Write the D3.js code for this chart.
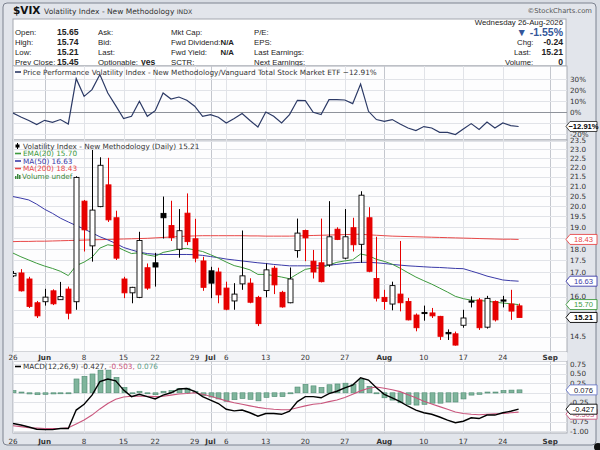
<!DOCTYPE html>
<html>
<head>
<meta charset="utf-8">
<script src="https://cdn.jsdelivr.net/npm/d3@7"></script>
<style>
html, body { margin: 0; padding: 0; background: #d9dde4; }
svg { display: block; font-family: "DejaVu Sans", Verdana, sans-serif; }
</style>
</head>
<body>
<svg id="chart" width="600" height="450"></svg>
<script>
// trading days shown (May 26 .. Aug 26 2026)
const dates = [
    "2026-05-26", "2026-05-27", "2026-05-28", "2026-05-29",
    "2026-06-01", "2026-06-02", "2026-06-03", "2026-06-04", "2026-06-05",
    "2026-06-08", "2026-06-09", "2026-06-10", "2026-06-11", "2026-06-12",
    "2026-06-15", "2026-06-16", "2026-06-17", "2026-06-18",
    "2026-06-22", "2026-06-23", "2026-06-24", "2026-06-25", "2026-06-26",
    "2026-06-29", "2026-06-30", "2026-07-01", "2026-07-02",
    "2026-07-06", "2026-07-07", "2026-07-08", "2026-07-09", "2026-07-10",
    "2026-07-13", "2026-07-14", "2026-07-15", "2026-07-16", "2026-07-17",
    "2026-07-20", "2026-07-21", "2026-07-22", "2026-07-23", "2026-07-24",
    "2026-07-27", "2026-07-28", "2026-07-29", "2026-07-30", "2026-07-31",
    "2026-08-03", "2026-08-04", "2026-08-05", "2026-08-06", "2026-08-07",
    "2026-08-10", "2026-08-11", "2026-08-12", "2026-08-13", "2026-08-14",
    "2026-08-17", "2026-08-18", "2026-08-19", "2026-08-20", "2026-08-21",
    "2026-08-24", "2026-08-25", "2026-08-26"
];
// empty room on the right of the chart
const futureDates = ["2026-08-27", "2026-08-28", "2026-08-31", "2026-09-01", "2026-09-02", "2026-09-03"];

const open = [16.85, 16.97, 16.72, 15.77, 15.81, 16.24, 15.89, 16.31, 15.81, 20.25, 18.14, 19.98, 21.08, 19.44,
    16.72, 16.16, 15.98, 17.19, 17.40, 19.65, 19.07, 17.99, 19.66, 18.46, 17.48, 17.06, 17.01, 16.35, 15.84,
    16.52, 16.55, 15.98, 16.25, 17.17, 16.18, 15.77, 17.93, 18.84, 17.47, 17.40, 17.31, 18.90, 17.60, 18.97,
    18.21, 19.44, 16.74, 15.98, 15.72, 16.11, 15.82, 15.30, 15.40, 15.38, 15.25, 14.66, 14.61, 14.92, 15.84,
    15.88, 14.85, 15.82, 15.88, 15.72, 15.65];
const high = [17.05, 17.13, 16.81, 15.84, 16.32, 16.30, 16.60, 16.41, 21.53, 20.31, 22.97, 22.56, 22.53, 19.78,
    16.81, 16.40, 18.78, 17.37, 17.83, 20.48, 20.27, 19.86, 20.64, 19.39, 17.66, 17.23, 17.19, 16.61, 16.55,
    18.84, 16.75, 16.04, 17.37, 17.27, 16.24, 17.20, 19.40, 18.88, 17.96, 19.40, 20.25, 18.99, 19.86, 19.44,
    20.75, 19.95, 18.55, 16.28, 16.61, 18.36, 15.96, 15.36, 15.66, 15.57, 15.27, 14.77, 14.69, 15.50, 16.02,
    15.96, 16.04, 15.86, 16.04, 16.28, 15.74];
const low = [16.80, 16.21, 15.57, 15.19, 15.66, 15.68, 15.88, 15.14, 15.50, 17.89, 17.45, 19.95, 19.24, 17.52,
    15.95, 15.75, 15.95, 16.28, 16.41, 18.47, 18.36, 17.62, 18.17, 17.42, 16.24, 15.95, 15.75, 15.48, 15.50,
    16.28, 15.75, 14.89, 15.98, 16.11, 15.58, 15.75, 17.62, 17.47, 16.74, 16.58, 17.23, 18.40, 17.55, 17.89,
    17.40, 17.00, 15.82, 15.50, 15.48, 15.44, 15.10, 14.70, 15.09, 15.19, 14.39, 14.39, 14.19, 14.83, 15.59,
    14.75, 14.80, 15.06, 15.59, 15.12, 15.21];
const close = [16.95, 16.24, 15.63, 15.27, 15.99, 15.73, 16.01, 15.37, 21.47, 18.87, 19.81, 22.12, 19.34, 17.60,
    16.16, 16.38, 18.38, 16.35, 17.22, 19.44, 18.51, 18.83, 18.33, 17.60, 16.38, 16.55, 16.08, 15.52, 16.11,
    16.85, 15.79, 14.98, 17.10, 16.48, 15.61, 16.72, 18.72, 18.50, 17.01, 16.61, 18.55, 18.43, 18.55, 18.19,
    20.55, 17.04, 15.95, 15.82, 16.45, 15.77, 15.12, 14.83, 15.38, 15.27, 14.52, 14.61, 14.21, 15.19, 15.82,
    14.83, 15.94, 15.12, 15.86, 15.45, 15.21];

const ema20 = [17.82, 17.66, 17.52, 17.38, 17.26, 17.16, 17.04, 16.86, 17.28, 17.43, 17.64, 18.04, 18.19, 18.13,
    17.95, 17.80, 17.84, 17.74, 17.68, 17.85, 17.92, 18.00, 18.03, 17.96, 17.89, 17.75, 17.60, 17.43, 17.28,
    17.20, 17.10, 16.91, 16.91, 16.86, 16.80, 16.73, 16.93, 17.12, 17.18, 17.17, 17.31, 17.42, 17.48, 17.53,
    17.78, 17.71, 17.55, 17.46, 17.34, 17.17, 16.98, 16.80, 16.65, 16.51, 16.35, 16.19, 16.02, 15.93, 15.87,
    15.86, 15.83, 15.79, 15.76, 15.73, 15.70];
const ma50 = [20.48, 20.40, 20.31, 20.10, 19.85, 19.65, 19.42, 19.24, 19.07, 18.91, 18.73, 18.55, 18.41, 18.25,
    18.07, 17.96, 17.86, 17.80, 17.77, 17.76, 17.76, 17.76, 17.76, 17.75, 17.72, 17.67, 17.62, 17.56, 17.52,
    17.48, 17.44, 17.40, 17.37, 17.33, 17.30, 17.27, 17.27, 17.27, 17.27, 17.28, 17.30, 17.33, 17.37, 17.40,
    17.42, 17.42, 17.40, 17.37, 17.33, 17.30, 17.27, 17.25, 17.23, 17.21, 17.20, 17.18, 17.16, 17.15, 17.05,
    16.95, 16.84, 16.76, 16.68, 16.65, 16.63];
const ma200 = [18.33, 18.34, 18.34, 18.35, 18.35, 18.36, 18.37, 18.38, 18.39, 18.40, 18.41, 18.42, 18.43, 18.44,
    18.45, 18.46, 18.47, 18.48, 18.50, 18.52, 18.54, 18.56, 18.58, 18.59, 18.60, 18.60, 18.60, 18.60, 18.60,
    18.60, 18.59, 18.59, 18.58, 18.58, 18.58, 18.58, 18.59, 18.60, 18.61, 18.62, 18.63, 18.64, 18.65, 18.66,
    18.67, 18.64, 18.62, 18.60, 18.58, 18.57, 18.56, 18.55, 18.54, 18.53, 18.52, 18.51, 18.50, 18.49, 18.48,
    18.47, 18.46, 18.45, 18.44, 18.44, 18.43];

// price performance vs VTI, percent
const perf = [-0.6, -4.3, -7.5, -11.2, -7.3, -9.1, -6.6, -10.6, 30.6, 14.5, 20.6, 34.3, 17.5, 6.1, -5.7, -3.6,
    10.0, -3.6, 1.5, 17.5, 12.1, 13.9, 10.9, 5.5, -3.6, -2.1, -4.5, -9.7, -5.7, -1.2, -7.5, -13.4, 0.3, -3.6,
    -9.7, -2.1, 10.9, 10.6, 0.0, -2.1, 11.5, 11.5, 11.2, 7.9, 25.7, 0.9, -6.6, -8.2, -6.6, -10.6, -14.3, -16.6,
    -13.0, -14.3, -18.2, -18.2, -20.3, -15.2, -10.3, -15.7, -8.8, -14.3, -9.7, -12.1, -12.91];

const macd = [-0.80, -0.84, -0.89, -0.95, -0.96, -0.96, -0.93, -0.93, -0.45, -0.30, -0.06, 0.29, 0.36, 0.31,
    0.07, -0.10, -0.04, -0.10, -0.16, -0.06, 0.00, 0.10, 0.11, 0.04, -0.10, -0.19, -0.28, -0.43, -0.47, -0.45,
    -0.52, -0.61, -0.54, -0.54, -0.56, -0.48, -0.23, -0.10, -0.10, -0.13, -0.02, 0.04, 0.13, 0.20, 0.39, 0.33,
    0.13, -0.04, -0.13, -0.23, -0.35, -0.45, -0.52, -0.56, -0.63, -0.71, -0.78, -0.74, -0.65, -0.67, -0.58,
    -0.58, -0.52, -0.48, -0.427];
const signal = [-0.86, -0.88, -0.91, -0.92, -0.93, -0.93, -0.93, -0.91, -0.81, -0.71, -0.58, -0.42, -0.28, -0.17,
    -0.11, -0.09, -0.09, -0.09, -0.10, -0.09, -0.06, -0.03, -0.02, 0.00, -0.04, -0.09, -0.15, -0.21, -0.26, -0.30,
    -0.34, -0.38, -0.41, -0.43, -0.44, -0.44, -0.39, -0.34, -0.30, -0.28, -0.23, -0.19, -0.12, -0.04, 0.05, 0.12,
    0.15, 0.12, 0.08, 0.03, -0.05, -0.13, -0.22, -0.29, -0.36, -0.43, -0.50, -0.54, -0.56, -0.57, -0.56, -0.55,
    -0.54, -0.52, -0.503];
const hist = [0.06, 0.02, -0.03, -0.05, -0.04, -0.03, -0.01, -0.01, 0.36, 0.43, 0.49, 0.59, 0.59, 0.40, 0.14,
    -0.02, 0.04, -0.01, -0.05, 0.04, 0.06, 0.11, 0.12, 0.04, -0.07, -0.11, -0.16, -0.22, -0.18, -0.15, -0.17,
    -0.21, -0.12, -0.10, -0.10, -0.02, 0.15, 0.22, 0.18, 0.14, 0.21, 0.23, 0.25, 0.22, 0.35, 0.17, 0.00, -0.13,
    -0.19, -0.26, -0.30, -0.32, -0.30, -0.27, -0.27, -0.24, -0.24, -0.16, -0.06, -0.04, 0.02, 0.02, 0.06, 0.07,
    0.076];

const tickDays = ["2026-05-26", "2026-06-01", "2026-06-08", "2026-06-15", "2026-06-22", "2026-06-29", "2026-07-01",
    "2026-07-06", "2026-07-13", "2026-07-20", "2026-07-27", "2026-08-03", "2026-08-10", "2026-08-17",
    "2026-08-24", "2026-09-01"];
const tickLabels = ["26", "Jun", "8", "15", "22", "29", "Jul", "6", "13", "20", "27", "Aug", "10", "17", "24", "Sep"];
const priceTicks = [14.5, 15.0, 15.5, 16.0, 16.5, 17.0, 17.5, 18.0, 18.5, 19.0, 19.5, 20.0, 20.5, 21.0, 21.5,
    22.0, 22.5, 23.0, 23.5];
const perfTicks = [30, 20, 10, 0, -10, -20];
const macdTicks = [0.75, 0.5, 0.25, 0, -0.25, -0.5, -0.75, -1.0];

const svg = d3.select("#chart");
const RED = "#e60000", MA200C = "#e84848", MA50C = "#3a3aa8", EMAC = "#3d9a3d", NAVY = "#2c3a66";
const SIGC = "#c9557c", HISTC = "#5fa08a";
const fmt2 = d3.format(".2f");
const last = dates.length - 1;

const x = d3.scalePoint().domain(dates.concat(futureDates)).range([13, 566]);
const left = 13, right = 567;
const perfBox = {top: 66, bottom: 140};
const mainBox = {top: 140, bottom: 352};
const macdBox = {top: 361, bottom: 433};
const yP = d3.scaleLinear().domain([-25.2, 42.1]).range([perfBox.bottom, perfBox.top]);
const y = d3.scaleLog().domain([13.97, 23.54]).range([mainBox.bottom, mainBox.top]);
const yM = d3.scaleLinear().domain([-1.047, 0.828]).range([macdBox.bottom, macdBox.top]);

// outer frame and header
svg.append("rect").attr("x", 3).attr("y", 3).attr("width", 593).attr("height", 442).attr("rx", 4)
    .attr("fill", "#e2e5eb").attr("stroke", "#7d8390");
svg.append("circle").attr("cx", 598).attr("cy", 447).attr("r", 4).attr("fill", "#111");

let title = svg.append("text").attr("x", 13).attr("y", 14).attr("fill", "#111");
title.append("tspan").attr("font-size", 10.5).attr("font-weight", "bold").text("$VIX ");
title.append("tspan").attr("font-size", 7.5).attr("fill", "#333").text("Volatility Index - New Methodology ");
title.append("tspan").attr("font-size", 6.2).attr("fill", "#333").text("INDX");
svg.append("text").attr("x", 592).attr("y", 13).attr("text-anchor", "end").attr("font-size", 6.8)
    .attr("fill", "#555").text("\u00a9StockCharts.com");

svg.append("rect").attr("x", left).attr("y", 19).attr("width", right - left - 1).attr("height", 47)
    .attr("fill", "#fff").attr("stroke", "#a4a8b0");

const hdr = svg.append("g").attr("font-family", "'Liberation Sans', Arial, sans-serif").attr("fill", "#222");
function htext(xp, yp, txt, opt) {
    opt = opt || {};
    return hdr.append("text").attr("x", xp).attr("y", yp).attr("font-size", opt.size || 7.8)
        .attr("font-weight", opt.bold ? "bold" : null).attr("text-anchor", opt.anchor || "start")
        .attr("fill", opt.color || "#222").text(txt);
}
const rowY = [35, 45, 55, 64.5];
htext(15, rowY[0], "Open:"); htext(57, rowY[0], "15.65", {bold: true, size: 8.6});
htext(15, rowY[1], "High:"); htext(57, rowY[1], "15.74", {bold: true, size: 8.6});
htext(15, rowY[2], "Low:"); htext(57, rowY[2], "15.21", {bold: true, size: 8.6});
htext(15, rowY[3], "Prev Close:"); htext(57, rowY[3], "15.45", {bold: true, size: 8.6});
htext(98, rowY[0], "Ask:"); htext(98, rowY[1], "Bid:"); htext(98, rowY[2], "Last:");
htext(98, rowY[3], "Optionable:"); htext(141, rowY[3], "yes", {bold: true, size: 8.6});
htext(171, rowY[0], "Mkt Cap:"); htext(171, rowY[1], "Fwd Dividend:"); htext(171, rowY[2], "Fwd Yield:");
htext(171, rowY[3], "SCTR:");
htext(234, rowY[1], "N/A", {bold: true, anchor: "end"}); htext(234, rowY[2], "N/A", {bold: true, anchor: "end"});
htext(254, rowY[0], "P/E:"); htext(254, rowY[1], "EPS:"); htext(254, rowY[2], "Last Earnings:");
htext(254, rowY[3], "Next Earnings:");
htext(563, 25, "Wednesday  26-Aug-2026", {anchor: "end"});
htext(563, 36, "\u25bc -1.55%", {anchor: "end", bold: true, size: 10.5, color: "#34579a"});
htext(517, rowY[1], "Chg:"); htext(563, rowY[1], "-0.24", {anchor: "end", bold: true, size: 8.6});
htext(514, rowY[2], "Last:"); htext(563, rowY[2], "15.21", {anchor: "end", bold: true, size: 8.6});
htext(505, rowY[3], "Volume:"); htext(563, rowY[3], "0", {anchor: "end", bold: true, size: 8.6});

// panel backgrounds
[perfBox, mainBox, macdBox].forEach((b, k) => {
    svg.append("rect").attr("x", left).attr("y", b.top).attr("width", right - left)
        .attr("height", b.bottom - b.top).attr("fill", "#fdfdfe").attr("stroke", "#a8acb4");
    svg.append("clipPath").attr("id", "clip" + k).append("rect")
        .attr("x", left).attr("y", b.top).attr("width", right - left).attr("height", b.bottom - b.top);
});
svg.append("rect").attr("x", left).attr("y", mainBox.bottom).attr("width", right - left)
    .attr("height", macdBox.top - mainBox.bottom).attr("fill", "#f3f4f7");

// vertical grid
const isMonth = l => isNaN(+l);
[perfBox, mainBox, macdBox].forEach(b => {
    svg.append("g").selectAll("line").data(tickDays).enter().append("line")
        .attr("x1", d => Math.round(x(d)) + 0.5).attr("x2", d => Math.round(x(d)) + 0.5)
        .attr("y1", b.top).attr("y2", b.bottom)
        .attr("stroke", (d, i) => isMonth(tickLabels[i]) ? "#c4c7ce" : "#e1e3e8");
});

// horizontal grids
function hgrid(vals, scale, strong) {
    svg.append("g").selectAll("line").data(vals).enter().append("line")
        .attr("x1", left).attr("x2", right)
        .attr("y1", d => Math.round(scale(d)) + 0.5).attr("y2", d => Math.round(scale(d)) + 0.5)
        .attr("stroke", d => d === strong ? "#8f939b" : "#e1e3e8");
}
hgrid(perfTicks, yP, 0);
hgrid(priceTicks, y, null);
hgrid(macdTicks, yM, null);

// x-axis labels (between panels and below MACD)
[357, 441].forEach(ly => {
    svg.append("g").selectAll("text").data(tickDays).enter().append("text")
        .attr("x", d => x(d)).attr("y", ly + 2.5).attr("text-anchor", "middle")
        .attr("font-size", 7.2).attr("fill", "#333")
        .attr("font-weight", (d, i) => isMonth(tickLabels[i]) ? "bold" : null)
        .text((d, i) => tickLabels[i]);
});

// value tags: later tags that would sit on an earlier one are pushed down a bit, like on the site
function tagPositions(vals, scale) {
    let placed = [];
    return vals.map(v => {
        let p = scale(v);
        placed.forEach(q => { if (Math.abs(p - q) < 5) p = q + 5; });
        placed.push(p);
        return p;
    });
}
const perfTags = tagPositions([perf[last]], yP);
const priceTags = tagPositions([ma200[last], ma50[last], ema20[last], close[last]], y);
const macdTags = tagPositions([hist[last], macd[last], signal[last]], yM);

// right axis labels; the ones sitting under a value tag are hidden
function rlabels(vals, scale, f, tagYs) {
    const shown = vals.filter(v => tagYs.every(t => Math.abs(scale(v) - t) > 6));
    svg.append("g").selectAll("text").data(shown).enter().append("text")
        .attr("x", 570).attr("y", d => scale(d) + 2.6).attr("font-size", 7.2).attr("fill", "#333")
        .text(f);
}
rlabels(perfTicks, yP, d => d + "%", perfTags);
rlabels(priceTicks, y, d => d.toFixed(1), priceTags);
rlabels(macdTicks, yM, d => d.toFixed(2), macdTags);

// price performance line
const gP = svg.append("g").attr("clip-path", "url(#clip0)");
gP.append("path").datum(perf)
    .attr("d", d3.line().x((d, i) => x(dates[i])).y(d => yP(d)))
    .attr("fill", "none").attr("stroke", NAVY).attr("stroke-width", 1.2);

// main panel: moving averages
const gM = svg.append("g").attr("clip-path", "url(#clip1)");
const maLine = d3.line().x((d, i) => x(dates[i])).y(d => y(d));
gM.append("path").datum(ma200).attr("d", maLine).attr("fill", "none").attr("stroke", MA200C).attr("stroke-width", 1);
gM.append("path").datum(ma50).attr("d", maLine).attr("fill", "none").attr("stroke", MA50C).attr("stroke-width", 1);
gM.append("path").datum(ema20).attr("d", maLine).attr("fill", "none").attr("stroke", EMAC).attr("stroke-width", 1);

// candles: red when close is below previous close, hollow when close is above open
const idx = d3.range(dates.length);
const cColor = i => (i > 0 && close[i] < close[i - 1]) ? RED : "#000";
const cx = i => Math.round(x(dates[i])) + 0.5;
gM.selectAll(".wick").data(idx).enter().append("line").attr("class", "wick")
    .attr("x1", cx).attr("x2", cx)
    .attr("y1", i => y(high[i])).attr("y2", i => y(low[i]))
    .attr("stroke", cColor).attr("stroke-width", 1);
gM.selectAll(".body").data(idx).enter().append("rect").attr("class", "body")
    .attr("x", i => cx(i) - 2.5).attr("width", 5)
    .attr("y", i => y(Math.max(open[i], close[i])))
    .attr("height", i => Math.max(1.2, Math.abs(y(open[i]) - y(close[i]))))
    .attr("fill", i => close[i] >= open[i] ? "#fff" : cColor(i))
    .attr("stroke", cColor).attr("stroke-width", 0.9);

// MACD panel
const gD = svg.append("g").attr("clip-path", "url(#clip2)");
gD.selectAll(".hbar").data(idx).enter().append("rect").attr("class", "hbar")
    .attr("x", i => cx(i) - 2.5).attr("width", 5)
    .attr("y", i => Math.min(yM(0), yM(hist[i])))
    .attr("height", i => Math.max(1, Math.abs(yM(hist[i]) - yM(0))))
    .attr("fill", "#7fb49c").attr("stroke", "#4d8a70").attr("stroke-width", 0.6);
gD.append("path").datum(signal)
    .attr("d", d3.line().x((d, i) => x(dates[i])).y(d => yM(d)))
    .attr("fill", "none").attr("stroke", SIGC).attr("stroke-width", 1.1);
gD.append("path").datum(macd)
    .attr("d", d3.line().x((d, i) => x(dates[i])).y(d => yM(d)))
    .attr("fill", "none").attr("stroke", "#000").attr("stroke-width", 1.4);

// legends
function legendLine(yl, color, parts) {
    svg.append("line").attr("x1", 15).attr("x2", 21).attr("y1", yl).attr("y2", yl)
        .attr("stroke", color).attr("stroke-width", 1.6);
    let t = svg.append("text").attr("x", 23).attr("y", yl + 2.6).attr("font-size", 7.3).attr("fill", "#333");
    parts.forEach(p => t.append("tspan").attr("fill", p[1] || "#333").text(p[0]));
}
legendLine(72, NAVY, [["Price Performance Volatility Index - New Methodology/Vanguard Total Stock Market ETF " +
    fmt2(perf[last]) + "%"]]);

// candle icon + title
svg.append("line").attr("x1", 17.5).attr("x2", 17.5).attr("y1", 143).attr("y2", 149).attr("stroke", "#000");
svg.append("rect").attr("x", 15.5).attr("y", 144.5).attr("width", 4).attr("height", 3).attr("fill", "#000");
svg.append("text").attr("x", 23).attr("y", 148.8).attr("font-size", 7.3).attr("fill", "#333")
    .text("Volatility Index - New Methodology (Daily) " + fmt2(close[last]));
legendLine(153.5, EMAC, [["EMA(20) " + fmt2(ema20[last]), EMAC]]);
legendLine(161, MA50C, [["MA(50) " + fmt2(ma50[last]), MA50C]]);
legendLine(168.5, MA200C, [["MA(200) " + fmt2(ma200[last]), MA200C]]);
[[15, 3], [17, 5], [19, 4]].forEach(b => svg.append("rect").attr("x", b[0]).attr("y", 179 - b[1])
    .attr("width", 1.5).attr("height", b[1]).attr("fill", "#3d8a3d"));
svg.append("text").attr("x", 22).attr("y", 178.6).attr("font-size", 7.3).attr("fill", "#3d8a3d").text("Volume undef");

legendLine(366.5, "#000", [["MACD(12,26,9) " + macd[last].toFixed(3) + ", "],
    [signal[last].toFixed(3) + ", ", SIGC], [hist[last].toFixed(3), HISTC]]);

// value tags on the right axis
function tag(yv, txt, color, textColor, bold) {
    const h = 5;
    const g = svg.append("g");
    g.append("path")
        .attr("d", `M566,${yv} L570,${yv - h} L597,${yv - h} L597,${yv + h} L570,${yv + h} Z`)
        .attr("fill", "#fff").attr("stroke", color).attr("stroke-width", 0.9);
    g.append("text").attr("x", 583.5).attr("y", yv + 2.7).attr("text-anchor", "middle")
        .attr("font-family", "'Liberation Sans', Arial, sans-serif").attr("font-size", 7.6)
        .attr("font-weight", bold ? "bold" : null).attr("fill", textColor).text(txt);
    return g;
}
tag(perfTags[0], fmt2(perf[last]) + "%", "#333", "#000", true);
tag(priceTags[0], fmt2(ma200[last]), MA200C, MA200C);
tag(priceTags[1], fmt2(ma50[last]), MA50C, MA50C);
tag(priceTags[2], fmt2(ema20[last]), EMAC, EMAC);
tag(priceTags[3], fmt2(close[last]), "#000", "#000", true);
tag(macdTags[0], hist[last].toFixed(3), "#6a78c8", "#223");
// the MACD tag sits on top of the signal tag
tag(macdTags[2], signal[last].toFixed(3), SIGC, SIGC);
tag(macdTags[1], macd[last].toFixed(3), "#000", "#000");
</script>
</body>
</html>
